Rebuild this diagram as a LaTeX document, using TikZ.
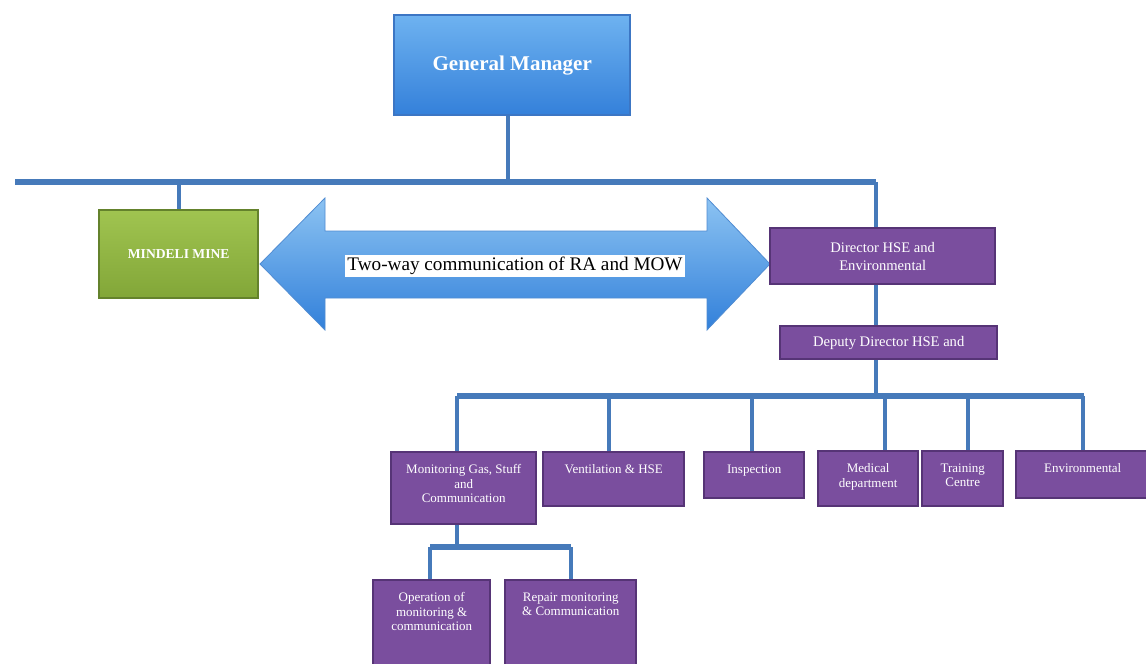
\documentclass[tikz,border=0pt]{standalone}
\usepackage{fontspec}
\setmainfont{Liberation Serif}
\definecolor{linkblue}{RGB}{70,122,186}
\definecolor{unitfill}{RGB}{122,78,158}
\definecolor{unitedge}{RGB}{86,52,118}
\definecolor{minetop}{RGB}{160,196,80}
\definecolor{minebottom}{RGB}{130,166,56}
\definecolor{mineedge}{RGB}{100,130,44}
\definecolor{gmtop}{RGB}{110,178,240}
\definecolor{gmbottom}{RGB}{52,128,218}
\definecolor{gmedge}{RGB}{60,118,196}
\definecolor{arrowtop}{RGB}{140,195,242}
\definecolor{arrowbottom}{RGB}{50,128,218}
\definecolor{arrowedge}{RGB}{80,140,210}
\tikzset{
    %Define style for the boxes
    unit/.style={
           rectangle,
           draw=unitedge,
           line width=1.2pt,
           fill=unitfill,
           inner sep=0pt,
           anchor=north west,
           text=white,
           align=center},
    %Define style for text at the top of a box
    unittext/.style={
           text=white,
           font=\fontsize{6.5}{7.3}\selectfont,
           align=center,
           inner sep=0pt,
           anchor=north,
           yshift=-6.5pt},
    % Define line styles
    link/.style={
           draw=linkblue,
           line width=2pt},
    bar/.style={
           draw=linkblue,
           line width=2.6pt}
}
\begin{document}
\begin{tikzpicture}[x=0.5pt,y=-0.5pt]
  \path[use as bounding box,fill=white] (0,0) rectangle (1146,664);
  % two-way arrow
  \draw[draw=arrowedge,top color=arrowtop,bottom color=arrowbottom]
    (260,264) -- (325,198) -- (325,231) -- (707,231) -- (707,198) -- (770,264)
    -- (707,330) -- (707,298) -- (325,298) -- (325,330) -- cycle;
  \node[fill=white,inner sep=1.2pt,font=\fontsize{9.6}{11}\selectfont] (twoway) at (515,266) {Two-way communication of RA and MOW};
  % upper boxes
  \node[unit,draw=gmedge,top color=gmtop,bottom color=gmbottom,minimum width=118pt,minimum height=50pt,
        font=\fontsize{10.5}{12}\selectfont\bfseries] (gm) at (393,14) {General Manager};
  \node[unit,draw=mineedge,top color=minetop,bottom color=minebottom,minimum width=79.5pt,minimum height=44pt,
        font=\fontsize{6.8}{8}\selectfont\bfseries] (mine) at (98,209) {MINDELI MINE};
  \node[unit,minimum width=112.5pt,minimum height=28pt,font=\fontsize{7.3}{9}\selectfont] (director) at (769,227) {Director HSE and\\Environmental};
  \node[unit,minimum width=108.5pt,minimum height=16.5pt,font=\fontsize{7.3}{9}\selectfont] (deputy) at (779,325) {Deputy Director HSE and};
  % departments
  \node[unit,minimum width=72.5pt,minimum height=36pt,label={[unittext]north:Monitoring Gas, Stuff\\and\\Communication}] (monitor) at (390,451) {};
  \node[unit,minimum width=70.5pt,minimum height=27pt,label={[unittext]north:Ventilation \& HSE}] (vent) at (542,451) {};
  \node[unit,minimum width=50pt,minimum height=23pt,label={[unittext]north:Inspection}] (insp) at (703,451) {};
  \node[unit,minimum width=50pt,minimum height=27.5pt,label={[unittext]north:Medical\\department}] (medical) at (817,450) {};
  \node[unit,minimum width=40.5pt,minimum height=27.5pt,label={[unittext]north:Training\\Centre}] (training) at (921,450) {};
  \node[unit,minimum width=66.5pt,minimum height=23.5pt,label={[unittext]north:Environmental}] (environ) at (1015,450) {};
  \node[unit,minimum width=58.5pt,minimum height=45pt,label={[unittext]north:Operation of\\monitoring \&\\communication}] (oper) at (372,579) {};
  \node[unit,minimum width=65.5pt,minimum height=45pt,label={[unittext]north:Repair monitoring\\\& Communication}] (repair) at (504,579) {};
  % lines
  \coordinate (topL) at (15,182);
  \coordinate (topR) at (876,182);
  \draw[bar] (topL) -- (topR);
  \draw[link] ([xshift=-2pt]gm.south) -- ([xshift=-2pt]gm.south |- topL);
  \draw[link] (mine.north |- topL) -- (mine.north);
  \draw[link] (topR) -- (topR |- director.north);
  \draw[link] (director.south -| topR) -- (deputy.north -| topR);
  \coordinate (midL) at (457,396);
  \coordinate (midR) at (1084,396);
  \draw[link] (deputy.south -| topR) -- (topR |- midL);
  \draw[bar] (midL) -- (midR);
  \foreach \n/\x in {monitor/457,vent/609,insp/752,medical/885,training/968,environ/1083}
    \draw[link] (\x,396) -- (\n.north -| \x,396);
  \coordinate (lowL) at (430,547);
  \coordinate (lowR) at (571,547);
  \draw[link] (monitor.south -| midL) -- (midL |- lowL);
  \draw[bar] (lowL) -- (lowR);
  \draw[link] (lowL) -- (lowL |- oper.north);
  \draw[link] (lowR) -- (lowR |- repair.north);
\end{tikzpicture}
\end{document}
